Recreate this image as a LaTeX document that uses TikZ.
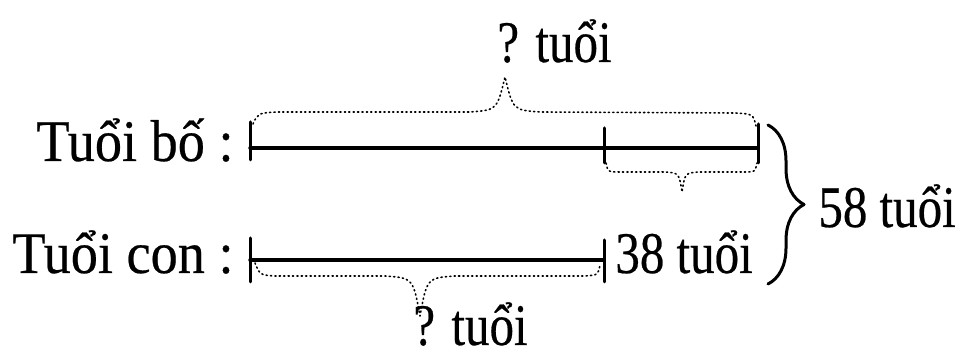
\documentclass[tikz,border=0pt]{standalone}
\usepackage{fontspec}
\setmainfont{Liberation Serif}[FakeStretch=0.83, FakeBold=0.4]
\newfontfamily\widefont{Liberation Serif}[FakeStretch=0.92, FakeBold=0.4]
\usetikzlibrary{decorations.pathreplacing}
\begin{document}
\begin{tikzpicture}[x=0.5pt, y=-0.5pt, font=\fontsize{29.5}{34}\selectfont, line join=round, line cap=round]
\tikzset{seg/.style={line width=1.7pt}, tick/.style={line width=1.5pt},
	dotbrace/.style={line width=0.8pt, dash pattern=on 0.6pt off 1.6pt},
	lbl/.style={inner sep=0pt}, widelbl/.style={lbl, font=\fontsize{29.5}{34}\widefont}}
\def\yb{148} \def\yc{260}
\useasboundingbox (0,0) rectangle (957,356);
\coordinate (b0) at (250,\yb); \coordinate (b1) at (604,\yb); \coordinate (b2) at (758,\yb);
\coordinate (c0) at (250,\yc); \coordinate (c1) at (604,\yc);
\draw[seg] (b0)--(b2);
\draw[seg] (c0)--(c1);
\foreach \p/\u/\d in {b0/26/12, b1/20/15, b2/24/15, c0/22/22, c1/20/22} \draw[tick] (\p) ++(0,-\u)--++(0,\u+\d);
\draw[dotbrace] (253,124) .. controls (258,113) .. (278,112)--(470,112) .. controls (497,110) .. (505,77) .. controls (513,110) .. (540,112)--(735,113) .. controls (753,114) .. (756,126);
\draw[dotbrace] (606,163) .. controls (608,172) .. (620,172)--(665,172) .. controls (679,173) .. (682,192) .. controls (685,173) .. (699,172)--(745,172) .. controls (755,172) .. (757,163);
\draw[dotbrace] (255,263) .. controls (260,275) .. (275,276)--(385,276) .. controls (413,278) .. (420,316) .. controls (427,278) .. (455,276)--(585,276) .. controls (598,275) .. (600,265);
\draw[line width=1.5pt, decorate, decoration={brace, amplitude=18pt}] (768,125)--(768,284);
\node[widelbl, anchor=base east] (lbo) at (234,161) {Tuổi bố :};
\node[widelbl, anchor=base east] (lcon) at (234,273) {Tuổi con :};
\node[lbl, anchor=base west] (l38) at (615,273) {38 tuổi};
\node[lbl, anchor=base west] (l58) at (818,227) {58 tuổi};
\node[lbl, anchor=base west] (qtop) at (497,62) {? tuổi};
\node[lbl, anchor=base west] (qbot) at (413,345) {? tuổi};
\end{tikzpicture}
\end{document}
